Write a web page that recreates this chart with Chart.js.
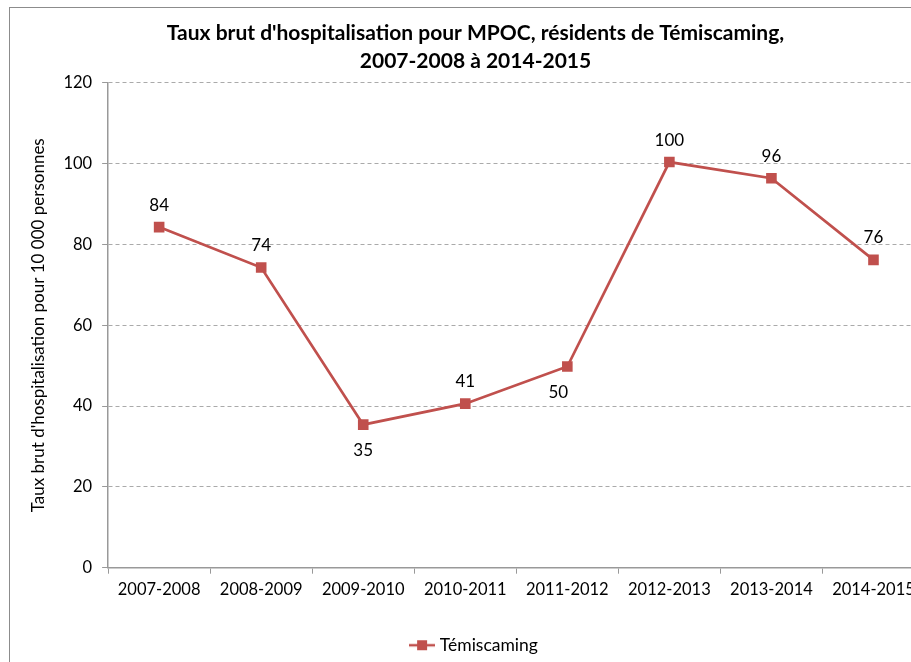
<!DOCTYPE html>
<html>
<head>
<meta charset="utf-8">
<script src="https://cdn.jsdelivr.net/npm/chart.js@4/dist/chart.umd.min.js"></script>
<style>
  html, body { margin: 0; padding: 0; background: #fff; overflow: hidden; width: 911px; height: 662px; }
  #frame { position: absolute; left: 9px; top: 7px; width: 940px; height: 680px; border: 1px solid #8c8c8c; background: #fff; }
  canvas { position: absolute; left: 0; top: 0; }
</style>
</head>
<body>
<div id="frame"><canvas id="chart" width="922" height="656"></canvas></div>
<script>
const periods = ['2007-2008', '2008-2009', '2009-2010', '2010-2011', '2011-2012', '2012-2013', '2013-2014', '2014-2015'];
const rates = [84.3, 74.3, 35.4, 40.6, 49.8, 100.4, 96.4, 76.2];
const rateLabels = ['84', '74', '35', '41', '50', '100', '96', '76'];
const labelSide = ['above', 'above', 'below', 'above', 'below', 'above', 'above', 'above'];
const yTicks = [0, 20, 40, 60, 80, 100, 120];

const red = '#C0504D';
const font = 'Lato, "Open Sans", sans-serif';

// legend marker: short line with a square on it
const legendMark = document.createElement('canvas');
legendMark.width = 26; legendMark.height = 12;
const lm = legendMark.getContext('2d');
lm.strokeStyle = red; lm.lineWidth = 2.5;
lm.beginPath(); lm.moveTo(0, 6); lm.lineTo(26, 6); lm.stroke();
lm.fillStyle = red; lm.fillRect(8, 1, 10, 10);

// small plugin for the value labels
const valueLabels = {
    id: 'valueLabels',
    afterDatasetsDraw(chart) {
        const ctx = chart.ctx;
        const meta = chart.getDatasetMeta(0);
        ctx.save();
        ctx.font = '17px ' + font;
        ctx.fillStyle = '#000';
        ctx.textAlign = 'center';
        ctx.textBaseline = 'middle';
        meta.data.forEach((pt, i) => {
            let dx = 0, dy = -22;
            if (labelSide[i] === 'below') dy = 26;
            if (i === 4) dx = -9;
            ctx.fillText(rateLabels[i], pt.x + dx, pt.y + dy);
        });
        ctx.restore();
    }
};

const ctx = document.getElementById('chart').getContext('2d');
new Chart(ctx, {
    type: 'line',
    data: {
        labels: periods,
        datasets: [{
            label: 'Témiscaming',
            data: rates,
            borderColor: red,
            backgroundColor: red,
            borderWidth: 2.7,
            pointStyle: 'rect',
            pointRadius: 7.5,
            pointHoverRadius: 7.5,
            pointBackgroundColor: red,
            pointBorderColor: red,
            pointBorderWidth: 0,
            tension: 0
        }]
    },
    plugins: [valueLabels],
    options: {
        responsive: false,
        devicePixelRatio: 1,
        animation: false,
        layout: { padding: { left: 14, right: 5, top: 7, bottom: 0 } },
        plugins: {
            title: {
                display: true,
                text: ["Taux brut d'hospitalisation pour MPOC, résidents de Témiscaming,", '2007-2008 à 2014-2015'],
                color: '#000',
                font: { family: font, size: 21, weight: 'bold', lineHeight: 1.33 },
                padding: { top: 4, bottom: 8 }
            },
            legend: {
                position: 'bottom',
                labels: {
                    usePointStyle: true,
                    pointStyle: legendMark,
                    pointStyleWidth: 18,
                    color: '#000',
                    font: { family: font, size: 17.5 },
                    padding: 31,
                    generateLabels: (chart) => [{
                        text: 'Témiscaming',
                        pointStyle: legendMark,
                        fillStyle: red,
                        strokeStyle: red,
                        lineWidth: 0,
                        datasetIndex: 0
                    }]
                }
            },
            tooltip: { enabled: false }
        },
        scales: {
            x: {
                offset: true,
                grid: { offset: true, drawOnChartArea: false, tickLength: 6, color: '#999' },
                border: { color: '#999', width: 1.5 },
                ticks: { color: '#000', font: { family: font, size: 16.5 }, maxRotation: 0, padding: 6 }
            },
            y: {
                min: 0,
                max: 120,
                afterBuildTicks: (axis) => { axis.ticks = yTicks.map(v => ({ value: v })); },
                grid: { color: '#aaa', lineWidth: 1, tickLength: 6, tickColor: '#999' },
                border: { color: '#999', width: 1.5, dash: [4, 3] },
                ticks: { color: '#000', font: { family: font, size: 16.5 }, padding: 10 },
                title: {
                    display: true,
                    text: "Taux brut d'hospitalisation pour 10 000 personnes",
                    color: '#000',
                    font: { family: font, size: 17 },
                    padding: { bottom: 5 }
                }
            }
        }
    }
});
</script>
</body>
</html>
